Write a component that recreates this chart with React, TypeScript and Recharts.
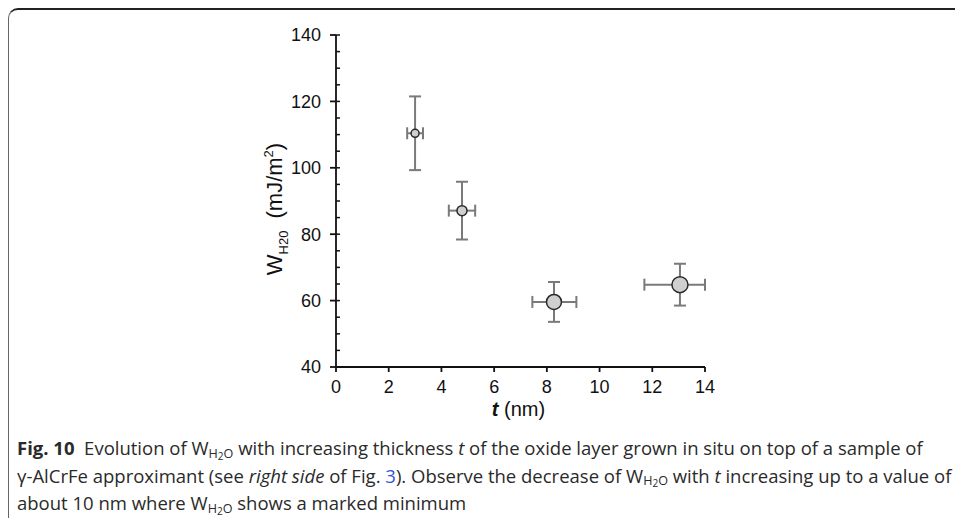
import { ScatterChart, Scatter, XAxis, YAxis, ErrorBar } from 'recharts'

// thickness t (nm) and W_H2O (mJ/m2)
const T_NM = [3.0, 4.78, 8.27, 13.05]
const W_H2O = [110.4, 87.1, 59.6, 64.8]
const W_ERR = [11.1, 8.7, 6.0, 6.3]
const T_ERR_LOW = [0.3, 0.5, 0.82, 1.35]
const T_ERR_HIGH = [0.3, 0.5, 0.85, 0.95]

const X_TICKS = [0, 2, 4, 6, 8, 10, 12, 14]
const Y_TICKS = [40, 60, 80, 100, 120, 140]
const X_MINOR = Array.from({ length: 29 }, (_, i) => i * 0.5)
const Y_MINOR = Array.from({ length: 21 }, (_, i) => 40 + i * 5)

// marker radius grows with thickness in the original
const MARKER_R = [4, 5, 7.5, 8]

const FONT = "'Liberation Sans', Arial, sans-serif"
const CAPTION_FONT = "'Open Sans', 'Noto Sans', sans-serif"

const data = T_NM.map((t, i) => ({
  t,
  w: W_H2O[i],
  ex: [T_ERR_LOW[i], T_ERR_HIGH[i]],
  ey: W_ERR[i],
  idx: i
}))

const noTick = () => <g />

function YLabel(props: any) {
  const vb = props.viewBox || {}
  const cx = vb.x + 6
  const cy = vb.y + vb.height / 2 + 8
  return (
    <text
      transform={`translate(${cx}, ${cy}) rotate(-90)`}
      textAnchor="middle"
      fontFamily={FONT}
      fontSize={22}
      fill="#111"
    >
      W<tspan fontSize={13} dy={6}>H20</tspan>
      <tspan dy={-6} dx={12}>(mJ/m</tspan>
      <tspan fontSize={13} dy={-9}>2</tspan>
      <tspan dy={9}>)</tspan>
    </text>
  )
}

function XLabel(props: any) {
  const vb = props.viewBox || {}
  return (
    <text
      x={vb.x + vb.width / 2 - 2}
      y={416}
      textAnchor="middle"
      fontFamily={FONT}
      fontSize={20}
      fill="#111"
    >
      <tspan fontStyle="italic" fontWeight="bold">t</tspan>
      <tspan> (nm)</tspan>
    </text>
  )
}

function Marker(props: any) {
  const { cx, cy, payload } = props
  return (
    <circle cx={cx} cy={cy} r={MARKER_R[payload.idx]} fill="#cfcfcf" stroke="#2a2a2a" strokeWidth={1.5} />
  )
}

const subStyle: any = { fontSize: '0.68em', lineHeight: 0, verticalAlign: 'baseline', position: 'relative', top: '0.22em' }
const subSubStyle: any = { fontSize: '0.8em', lineHeight: 0, verticalAlign: 'baseline', position: 'relative', top: '0.2em' }

function WH2O() {
  return (
    <span>
      W<span style={subStyle}>H<span style={subSubStyle}>2</span>O</span>
    </span>
  )
}

export default function App() {
  return (
    <div style={{ position: 'fixed', left: 0, top: 0, width: 955, height: 518, overflow: 'hidden', background: '#fff' }}>
      {/* frame */}
      <div
        style={{
          position: 'absolute',
          left: 8,
          top: 8,
          width: 2000,
          height: 2000,
          borderTop: '2px solid #222',
          borderLeft: '1.5px solid #666',
          borderTopLeftRadius: 10
        }}
      />
      <div style={{ position: 'absolute', left: 0, top: 0 }}>
        <ScatterChart width={955} height={430} margin={{ top: 35, right: 250, bottom: 33, left: 276 }}>
          <XAxis
            type="number"
            dataKey="t"
            domain={[0, 14]}
            ticks={X_TICKS}
            interval={0}
            allowDataOverflow
            height={30}
            tickSize={5}
            tickMargin={8}
            stroke="#111"
            strokeWidth={1.8}
            tick={{ fill: '#111', fontSize: 18, fontFamily: FONT }}
            label={<XLabel />}
          />
          <XAxis
            xAxisId="minor"
            type="number"
            domain={[0, 14]}
            ticks={X_MINOR}
            interval={0}
            allowDataOverflow
            mirror
            axisLine={false}
            tickSize={4}
            stroke="#111"
            strokeWidth={1.5}
            tick={noTick}
          />
          <YAxis
            type="number"
            dataKey="w"
            domain={[40, 140]}
            ticks={Y_TICKS}
            interval={0}
            allowDataOverflow
            width={60}
            tickSize={6}
            tickMargin={9}
            stroke="#111"
            strokeWidth={1.8}
            tick={{ fill: '#111', fontSize: 18, fontFamily: FONT }}
            label={<YLabel />}
          />
          <YAxis
            yAxisId="minor"
            type="number"
            domain={[40, 140]}
            ticks={Y_MINOR}
            interval={0}
            allowDataOverflow
            mirror
            axisLine={false}
            tickSize={4}
            stroke="#111"
            strokeWidth={1.5}
            tick={noTick}
          />
          <Scatter data={data} shape={<Marker />} isAnimationActive={false}>
            <ErrorBar dataKey="ey" direction="y" width={6} stroke="#7a7a7a" strokeWidth={2} isAnimationActive={false} />
            <ErrorBar dataKey="ex" direction="x" width={6} stroke="#7a7a7a" strokeWidth={2} isAnimationActive={false} />
          </Scatter>
        </ScatterChart>
      </div>
      <div
        style={{
          position: 'absolute',
          left: 17,
          top: 434,
          fontFamily: CAPTION_FONT,
          fontSize: 18.5,
          lineHeight: '27.5px',
          color: '#2a2a2a',
          whiteSpace: 'nowrap'
        }}
      >
        <b>Fig. 10</b>&nbsp; Evolution of <WH2O /> with increasing thickness <i>t</i> of the oxide layer grown in situ on top of a sample of
        <br />
        γ-AlCrFe approximant (see <i>right side</i> of Fig. <span style={{ color: '#2f56d8' }}>3</span>). Observe the decrease of <WH2O /> with <i>t</i> increasing up to a value of
        <br />
        about 10 nm where <WH2O /> shows a marked minimum
      </div>
    </div>
  )
}
